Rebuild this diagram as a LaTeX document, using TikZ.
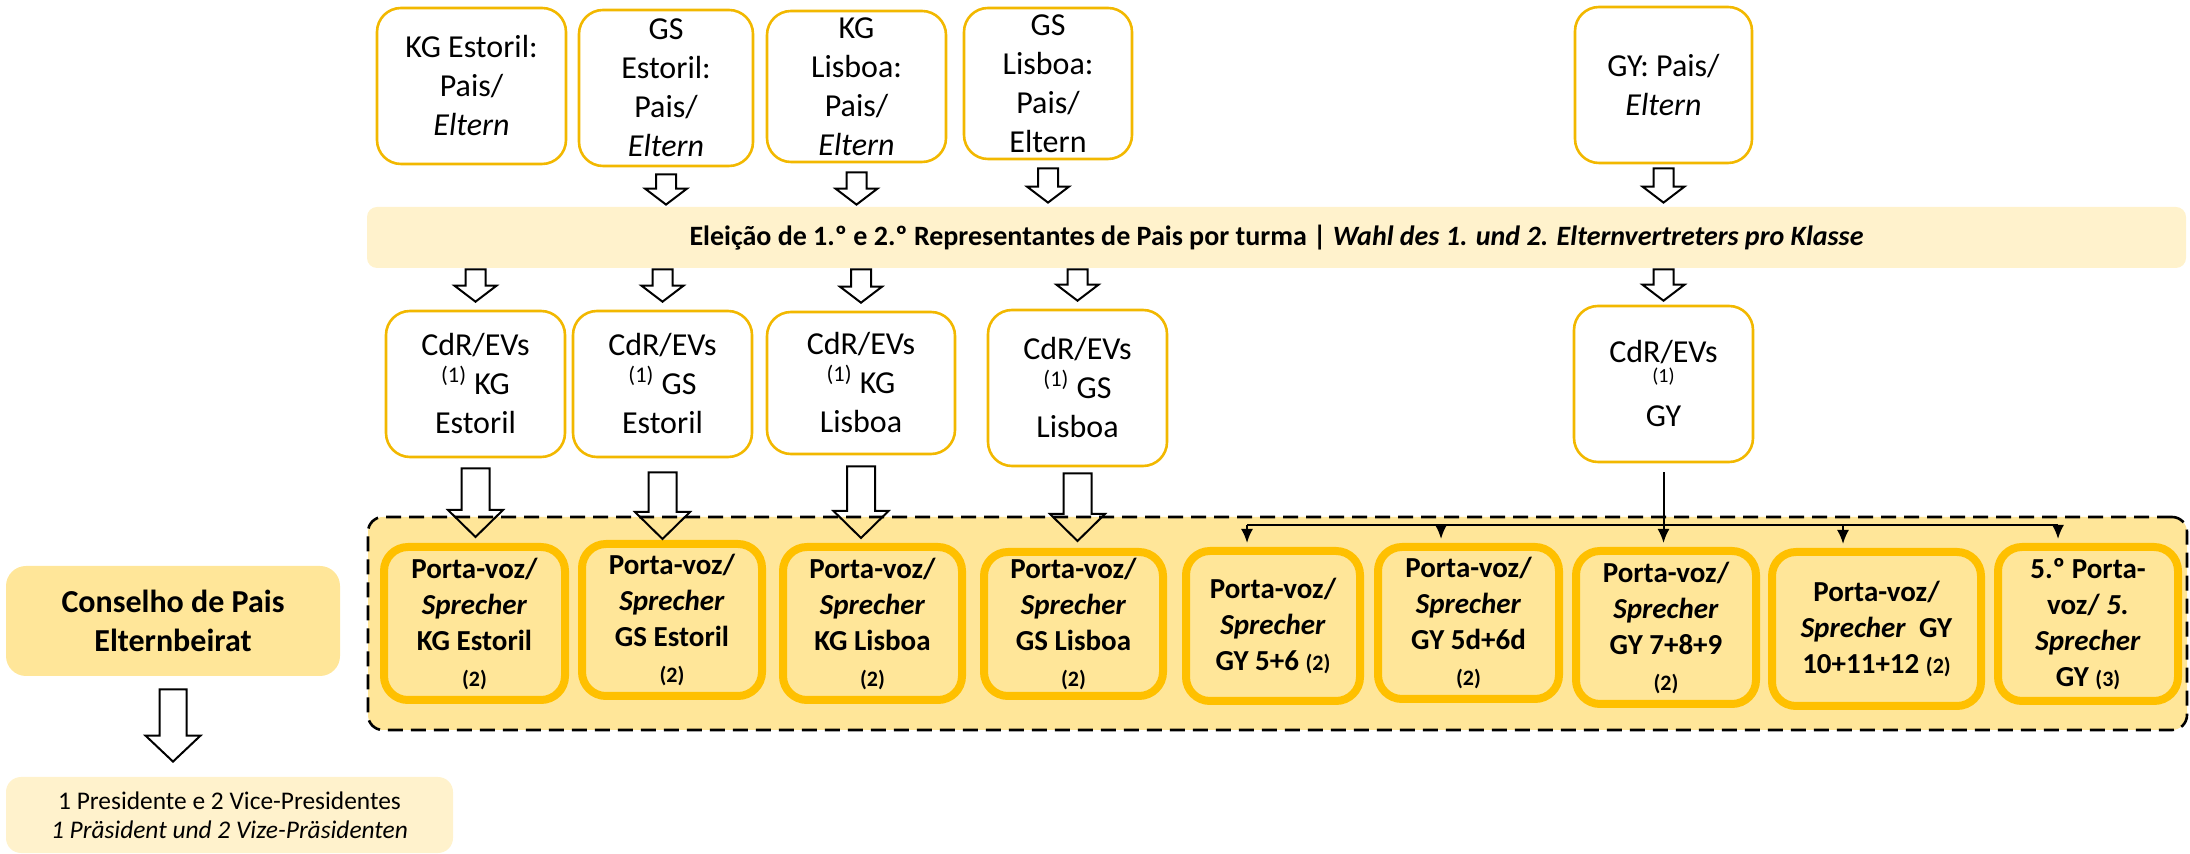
\documentclass[tikz,border=0pt]{standalone}
\usepackage{fontspec}
\setmainfont{Carlito}
\usetikzlibrary{arrows.meta,calc}
\definecolor{gold}{HTML}{FFC000}
\definecolor{lightgold}{HTML}{FFE699}
\definecolor{pale}{HTML}{FFF2CC}
\definecolor{boxline}{HTML}{F2B800}
\newcommand{\harrow}[5]{\draw[hollowarrow] let \p1=#1, \p2=#2 in (\x1-#3,\y1) -- (\x1-#3,\y2+#5) -- (\x1-#4,\y2+#5) -- (\x1,\y2) -- (\x1+#4,\y2+#5) -- (\x1+#3,\y2+#5) -- (\x1+#3,\y1) -- cycle;}
\newcommand{\smallnum}[1]{{\fontsize{11}{13}\selectfont #1}}
\begin{document}
\begin{tikzpicture}[x=0.5pt,y=-0.5pt,
  wh/.style 2 args={minimum width={(#1)*0.5pt}, minimum height={(#2)*0.5pt}},
  topbox/.style={draw=boxline, line width=1.3pt, rounded corners=12pt, fill=white, align=center, inner sep=0pt, font=\fontsize{16}{19.5}\selectfont},
  porta/.style={draw=gold, line width=4pt, rounded corners=12pt, fill=lightgold, align=center, inner sep=0pt, font=\bfseries\fontsize{14.5}{18}\selectfont},
  banner/.style={fill=pale, rounded corners=5pt, inner sep=0pt, font=\fontsize{14}{16}\selectfont},
  dashedbox/.style={draw=black, fill=lightgold, line width=1.3pt, dash pattern=on 7.5pt off 4pt, rounded corners=7.5pt, inner sep=0pt},
  cons/.style={fill=lightgold, rounded corners=10pt, align=center, inner sep=0pt, font=\bfseries\fontsize{16}{19.5}\selectfont},
  pres/.style={fill=pale, rounded corners=7.5pt, align=center, inner sep=0pt, font=\fontsize{12.7}{14.5}\selectfont},
  hollowarrow/.style={draw=black, line width=1pt, line join=miter},
  conn/.style={draw=black, line width=1pt},
  tip/.style={-{Latex[length=7pt,width=6pt]}}
]
\useasboundingbox (0,0) rectangle (2190,854);

% top row
\node[topbox, wh={189}{156}] (t1) at (471.5,86) {KG Estoril:\\Pais/\\\textit{Eltern}};
\node[topbox, wh={174}{156}] (t2) at (666,88) {GS\\Estoril:\\Pais/\\\textit{Eltern}};
\node[topbox, wh={179}{151}] (t3) at (856.5,86.5) {KG\\Lisboa:\\Pais/\\\textit{Eltern}};
\node[topbox, wh={168}{151}] (t4) at (1048,83.5) {GS\\Lisboa:\\Pais/\\Eltern};
\node[topbox, wh={177}{156}] (t5) at (1663.5,85) {GY: Pais/\\\textit{Eltern}};

% banner
\node[banner, wh={1819}{61}] (ban) at (1276.5,237.5) {\textbf{Eleição de 1.º e 2.º Representantes de Pais por turma | \textit{Wahl des 1. und 2. Elternvertreters pro Klasse}}};

% CdR row
\node[topbox, wh={179}{146}] (c1) at (475.5,384) {CdR/EVs\\\textsuperscript{(1)} KG\\Estoril};
\node[topbox, wh={179}{146}] (c2) at (662.5,384) {CdR/EVs\\\textsuperscript{(1)} GS\\Estoril};
\node[topbox, wh={188}{142}] (c3) at (861,383) {CdR/EVs\\\textsuperscript{(1)} KG\\Lisboa};
\node[topbox, wh={179}{156}] (c4) at (1077.5,388) {CdR/EVs\\\textsuperscript{(1)} GS\\Lisboa};
\node[topbox, wh={179}{156}] (c5) at (1663.5,384) {CdR/EVs\\[-9.5pt]{\fontsize{10}{12}\selectfont(1)}\\[2.5pt]GY};

% group
\node[dashedbox, wh={1819}{213}] (grp) at (1277.5,623.5) {};

\node[porta, wh={181}{153}] (p1) at (474.5,623.5) {Porta-voz/\\\textit{Sprecher}\\KG Estoril\\\smallnum{(2)}};
\node[porta, wh={180}{152}] (p2) at (672,620) {Porta-voz/\\\textit{Sprecher}\\GS Estoril\\\smallnum{(2)}};
\node[porta, wh={179}{153}] (p3) at (872.5,623.5) {Porta-voz/\\\textit{Sprecher}\\KG Lisboa\\\smallnum{(2)}};
\node[porta, wh={179}{144}] (p4) at (1073.5,624) {Porta-voz/\\\textit{Sprecher}\\GS Lisboa\\\smallnum{(2)}};
\node[porta, wh={174}{150}] (p5) at (1273,626) {Porta-voz/\\\textit{Sprecher}\\GY 5+6 \smallnum{(2)}};
\node[porta, wh={181}{152}] (p6) at (1468.5,623) {Porta-voz/\\\textit{Sprecher}\\GY 5d+6d\\\smallnum{(2)}};
\node[porta, wh={180}{153}] (p7) at (1666,627.5) {Porta-voz/\\\textit{Sprecher}\\GY 7+8+9\\\smallnum{(2)}};
\node[porta, wh={209}{154}] (p8) at (1876.5,629) {Porta-voz/\\\textit{Sprecher}~~GY\\10+11+12 \smallnum{(2)}};
\node[porta, wh={180}{154}] (p9) at (2088,624) {5.º Porta-\\voz/ \textit{5.}\\\textit{Sprecher}\\GY \smallnum{(3)}};

% left side
\node[cons, wh={334}{110}] (cons) at (173,621) {Conselho de Pais\\Elternbeirat};
\node[pres, wh={447}{76}] (pres) at (229.5,815) {1 Presidente e 2 Vice-Presidentes\\\textit{1 Präsident und 2 Vize-Präsidenten}};

% hollow arrows: top boxes -> banner
\harrow{($(t2.south)+(0,7)$)}{($(ban.north)+(0,-2)$)}{5pt}{10.5pt}{8pt}
\harrow{($(t3.south)+(0,9)$)}{($(ban.north)+(0,-2)$)}{5pt}{10.5pt}{8pt}
\harrow{($(t4.south)+(0,8)$)}{($(ban.north)+(0,-4)$)}{5pt}{10.5pt}{8pt}
\harrow{($(t5.south)+(0,4)$)}{($(ban.north)+(0,-4)$)}{5pt}{10.5pt}{8pt}
% banner -> CdR
\harrow{($(c1.north |- ban.south)+(0,1)$)}{($(c1.north)+(0,-8)$)}{5pt}{10.5pt}{8pt}
\harrow{($(c2.north |- ban.south)+(0,1)$)}{($(c2.north)+(0,-8)$)}{5pt}{10.5pt}{8pt}
\harrow{($(c3.north |- ban.south)+(0,1)$)}{($(c3.north)+(0,-8)$)}{5pt}{10.5pt}{8pt}
\harrow{($(c4.north |- ban.south)+(0,1)$)}{($(c4.north)+(0,-8)$)}{5pt}{10.5pt}{8pt}
\harrow{($(c5.north |- ban.south)+(0,1)$)}{($(c5.north)+(0,-4)$)}{5pt}{10.5pt}{8pt}
% CdR -> Porta (big)
\harrow{($(c1.south)+(0,10)$)}{($(p1.north)+(0,-6)$)}{7pt}{13.75pt}{13.5pt}
\harrow{($(c2.south)+(0,14)$)}{($(p2.north)+(0,-1)$)}{7pt}{13.75pt}{13.5pt}
\harrow{($(c3.south)+(0,11)$)}{($(p3.north)+(0,-5)$)}{7pt}{13.75pt}{13.5pt}
\harrow{($(c4.south)+(0,6)$)}{($(p4.north)+(0,-7)$)}{7pt}{13.75pt}{13.5pt}
% Conselho -> Presidente
\harrow{($(cons.south)+(0,13)$)}{($(pres.north)+(0,-15)$)}{6.75pt}{13.75pt}{13pt}

% GY distribution
\coordinate (j1) at (1247,525);
\coordinate (j2) at (1441,525);
\coordinate (j4) at (1843,525);
\coordinate (j5) at (2058,525);
\draw[conn] (j1) -- (j5);
\draw[conn,tip] (j1) -- ($(j1 |- p5.north)+(0,-4)$);
\draw[conn,tip] (j2) -- ($(j2 |- p6.north)+(0,-4)$);
\draw[conn,tip] (j4) -- ($(j4 |- p8.north)+(0,-4)$);
\draw[conn,tip] (j5) -- ($(j5 |- p9.north)+(0,-4)$);
\draw[conn,tip,shorten <=4.5pt] (c5.south) -- ($(c5.south |- p7.north)+(0,-4)$);
\end{tikzpicture}
\end{document}
